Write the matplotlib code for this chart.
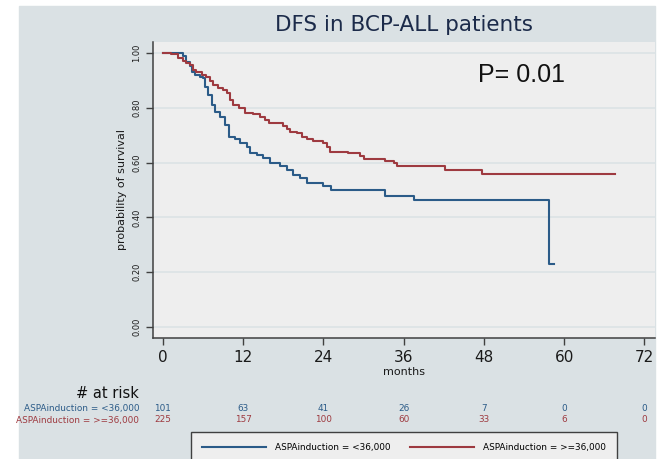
import numpy as np
import matplotlib
matplotlib.use('Agg')
import matplotlib.pyplot as plt
from matplotlib.patches import Rectangle


# Kaplan-Meier steps, ASPA induction < 36,000
times_lo = [0, 3.0, 3.5, 4.0, 4.3, 4.8, 5.5, 6.0, 6.3, 6.8, 7.3, 7.8, 8.5,
            9.3, 9.8, 10.8, 11.5, 12.5, 13.0, 14.0, 15.0, 16.0, 17.5, 18.5,
            19.5, 20.5, 21.5, 24.0, 25.2, 33.2, 37.5, 57.8]
surv_lo = [1.0, 0.990, 0.968, 0.953, 0.932, 0.920, 0.911, 0.907, 0.877,
           0.847, 0.810, 0.786, 0.768, 0.737, 0.695, 0.685, 0.670, 0.658,
           0.634, 0.628, 0.616, 0.597, 0.588, 0.573, 0.555, 0.543, 0.524,
           0.515, 0.500, 0.478, 0.463, 0.230]
end_lo = 58.5

# Kaplan-Meier steps, ASPA induction >= 36,000
times_hi = [0, 1.15, 2.3, 3.0, 3.5, 4.0, 4.5, 5.0, 5.8, 6.5, 7.0, 7.5, 8.3,
            9.0, 9.5, 10.0, 10.5, 11.3, 12.3, 13.5, 14.5, 15.3, 15.8, 18.0,
            18.5, 19.0, 20.0, 20.8, 21.5, 22.5, 24.0, 24.5, 25.0, 27.7, 29.5,
            30.0, 33.2, 34.5, 35.0, 42.2, 47.7]
surv_hi = [1.0, 0.995, 0.980, 0.972, 0.965, 0.956, 0.938, 0.929, 0.920,
           0.914, 0.896, 0.884, 0.871, 0.865, 0.853, 0.829, 0.810, 0.798,
           0.782, 0.777, 0.768, 0.755, 0.743, 0.734, 0.722, 0.713, 0.707,
           0.692, 0.685, 0.680, 0.670, 0.656, 0.640, 0.634, 0.624, 0.613,
           0.607, 0.597, 0.588, 0.573, 0.558]
end_hi = 67.6

# number at risk table
risk_months = [0, 12, 24, 36, 48, 60, 72]
risk_lo = [101, 63, 41, 26, 7, 0, 0]
risk_hi = [225, 157, 100, 60, 33, 6, 0]

label_lo = 'ASPAinduction = <36,000'
label_hi = 'ASPAinduction = >=36,000'

blue = '#2b5b88'
red = '#9e3a40'
outer_bg = '#dae1e4'
plot_bg = '#eeeeee'
W, H = 658, 459


def step_xy(times, surv, end):
    # extend last step out to the final follow-up time
    return list(times) + [end], list(surv) + [surv[-1]]


fig = plt.figure(figsize=(W / 100, H / 100), dpi=100, facecolor='white')
fig.patches.append(Rectangle((19 / W, 0), (655 - 19) / W, (H - 6) / H,
                             transform=fig.transFigure, color=outer_bg,
                             zorder=-10))

ax = fig.add_axes([152.5 / W, 1 - 337.7 / H, (655 - 152.5) / W,
                   (337.7 - 42) / H])
ax.set_facecolor(plot_bg)

x, y = step_xy(times_lo, surv_lo, end_lo)
ax.step(x, y, where='post', color=blue, lw=1.5, label=label_lo, zorder=3)
x, y = step_xy(times_hi, surv_hi, end_hi)
ax.step(x, y, where='post', color=red, lw=1.5, label=label_hi, zorder=3)

ax.set_xlim(-1.57, 73.6)
ax.set_ylim(-0.039, 1.040)
ax.set_xticks(risk_months)
ax.set_yticks(np.arange(0, 1.01, 0.2))
ax.set_yticklabels([f'{v:.2f}' for v in np.arange(0, 1.01, 0.2)])
ax.yaxis.grid(True, color='#dbe3e5', lw=1.2)
ax.set_axisbelow(True)

for side in ['top', 'right']:
    ax.spines[side].set_visible(False)
for side in ['left', 'bottom']:
    ax.spines[side].set_color('#404040')
    ax.spines[side].set_linewidth(1.1)

ax.tick_params(axis='x', length=5, width=1, color='#404040', pad=4,
               labelsize=11, labelcolor='#1a1a1a')
ax.tick_params(axis='y', length=5, width=1, color='#404040', pad=3,
               labelsize=6, labelcolor='#1a1a1a', labelrotation=90)
for lab in ax.get_yticklabels():
    lab.set_va('center')

ax.set_xlabel('months', fontsize=8, labelpad=1.5, color='#1a1a1a')
ax.set_ylabel('probability of survival', fontsize=8, labelpad=4,
              color='#1a1a1a')

fig.text(404 / W, 1 - 25 / H, 'DFS in BCP-ALL patients', fontsize=15.5,
         color='#1c2b4a', ha='center', va='center')
fig.text(478 / W, 1 - 75 / H, 'P= 0.01', fontsize=18,
         family='Liberation Sans', color='#111111', ha='left', va='center')

# number at risk below the axis
fig.text(139 / W, 1 - 393 / H, '# at risk', fontsize=10.5, ha='right',
         va='center', color='#111111')
fig.text(139 / W, 1 - 408.3 / H, label_lo, fontsize=6.4, ha='right',
         va='center', color=blue)
fig.text(139 / W, 1 - 420 / H, label_hi, fontsize=6.4, ha='right',
         va='center', color=red)
tr = ax.get_xaxis_transform()
ax_h = (337.7 - 42)
for m, n_lo, n_hi in zip(risk_months, risk_lo, risk_hi):
    ax.text(m, -(408.3 - 337.7) / ax_h, str(n_lo), transform=tr, fontsize=6.4,
            ha='center', va='center', color=blue, clip_on=False)
    ax.text(m, -(420 - 337.7) / ax_h, str(n_hi), transform=tr, fontsize=6.4,
            ha='center', va='center', color=red, clip_on=False)

leg = fig.legend(loc='upper left', bbox_to_anchor=(191 / W, 1 - 432 / H),
                 ncol=2, fontsize=6.4, frameon=True, fancybox=False,
                 handlelength=7.2, handletextpad=1.1, columnspacing=2.1,
                 borderpad=1.2, borderaxespad=0)
leg.get_frame().set_facecolor('#eeeeee')
leg.get_frame().set_edgecolor('#404040')
leg.get_frame().set_linewidth(1.0)
leg.get_frame().set_alpha(1)

fig.savefig('out.png', dpi=100, facecolor='white')
